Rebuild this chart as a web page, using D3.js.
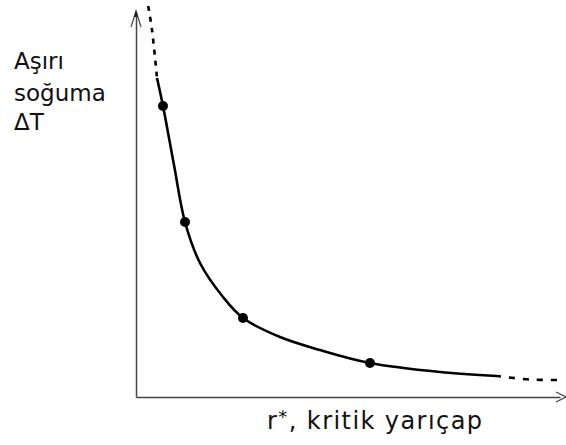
<!DOCTYPE html>
<html><head><meta charset="utf-8">
<script src="https://cdn.jsdelivr.net/npm/d3@7"></script>
<style>html,body{margin:0;padding:0;background:#fff;}svg{display:block;}</style>
</head><body>
<script>
// Data (abstract units: r* on x, ΔT on y)
const curveX = [5.25, 6.75, 9.5, 12.25, 16, 21.75, 26.75, 36, 46, 58.5, 76, 90.25];
const curveY = [79.75, 72.75, 58, 43.75, 33.5, 25, 19.75, 15, 11.75, 8.5, 6.25, 5.25];
const dashTopX = [3, 4, 5.25];
const dashTopY = [98, 91.75, 79.75];
const dashRightX = [90.25, 98.5, 105.25];
const dashRightY = [5.25, 4.375, 4.25];
const dotX = [6.75, 12.25, 26.75, 58.5];
const dotY = [72.75, 43.75, 19.75, 8.5];
const yLabelLines = ["Aşırı", "soğuma", "ΔT"];
const xLabel = ["r", "*", ", kritik yarıçap"];

const W = 566, H = 445;
const svg = d3.select("body").append("svg").attr("width", W).attr("height", H);

const x = d3.scaleLinear().domain([0, 106]).range([136, 560]);
const y = d3.scaleLinear().domain([0, 98]).range([397, 5]);

const axisColor = "#444";
const gx = svg.append("g").attr("transform", `translate(0,${y(0)})`)
  .call(d3.axisBottom(x).tickValues([]).tickSizeOuter(0));
const gy = svg.append("g").attr("transform", `translate(${x(0)},0)`)
  .call(d3.axisLeft(y.copy().range([397, 12])).tickValues([]).tickSizeOuter(0));
[gx, gy].forEach(g => g.select(".domain").attr("stroke", axisColor).attr("stroke-width", 1.5));

// arrowheads
svg.append("path").attr("d", `M${x(0)-5},27 L${x(0)},11 L${x(0)+5},27`)
  .attr("fill", "none").attr("stroke", axisColor).attr("stroke-width", 1.2);
svg.append("path").attr("d", `M${x(0)-2},17 L${x(0)},10 L${x(0)+2},17 Z`).attr("fill", "#222");
svg.append("path").attr("d", `M556,392 L566,${y(0)} L556,402`)
  .attr("fill", "none").attr("stroke", axisColor).attr("stroke-width", 1.2);

const line = d3.line().x(d => x(d[0])).y(d => y(d[1])).curve(d3.curveCatmullRom.alpha(0.5));

svg.append("path").datum(d3.zip(curveX, curveY)).attr("d", line)
  .attr("fill", "none").attr("stroke", "#000").attr("stroke-width", 2.6);
svg.append("path").datum(d3.zip(dashTopX, dashTopY)).attr("d", line)
  .attr("fill", "none").attr("stroke", "#000").attr("stroke-width", 2.6)
  .attr("stroke-dasharray", "5,6").attr("stroke-dashoffset", -1);
svg.append("path").datum(d3.zip(dashRightX, dashRightY)).attr("d", line)
  .attr("fill", "none").attr("stroke", "#000").attr("stroke-width", 2.6)
  .attr("stroke-dasharray", "6,8").attr("stroke-dashoffset", -12);

svg.selectAll("circle.dot").data(d3.zip(dotX, dotY)).enter().append("circle")
  .attr("class", "dot").attr("cx", d => x(d[0])).attr("cy", d => y(d[1]))
  .attr("r", 5).attr("fill", "#000");

// y label
const baselines = [69, 101, 130];
svg.selectAll("text.yl").data(yLabelLines).enter().append("text")
  .attr("class", "yl").attr("x", 14).attr("y", (d, i) => baselines[i])
  .attr("font-family", "DejaVu Sans, Verdana, sans-serif").attr("font-size", 23)
  .attr("fill", "#111").text(d => d);

// x label
const xt = svg.append("text").attr("x", 267).attr("y", 429)
  .attr("font-family", "DejaVu Sans, Verdana, sans-serif").attr("font-size", 24)
  .attr("fill", "#111").attr("textLength", 215).attr("lengthAdjust", "spacing");
xt.append("tspan").text(xLabel[0]);
xt.append("tspan").attr("font-size", 18).attr("dy", -6).text(xLabel[1]);
xt.append("tspan").attr("dy", 6).text(xLabel[2]);
</script>
</body></html>
